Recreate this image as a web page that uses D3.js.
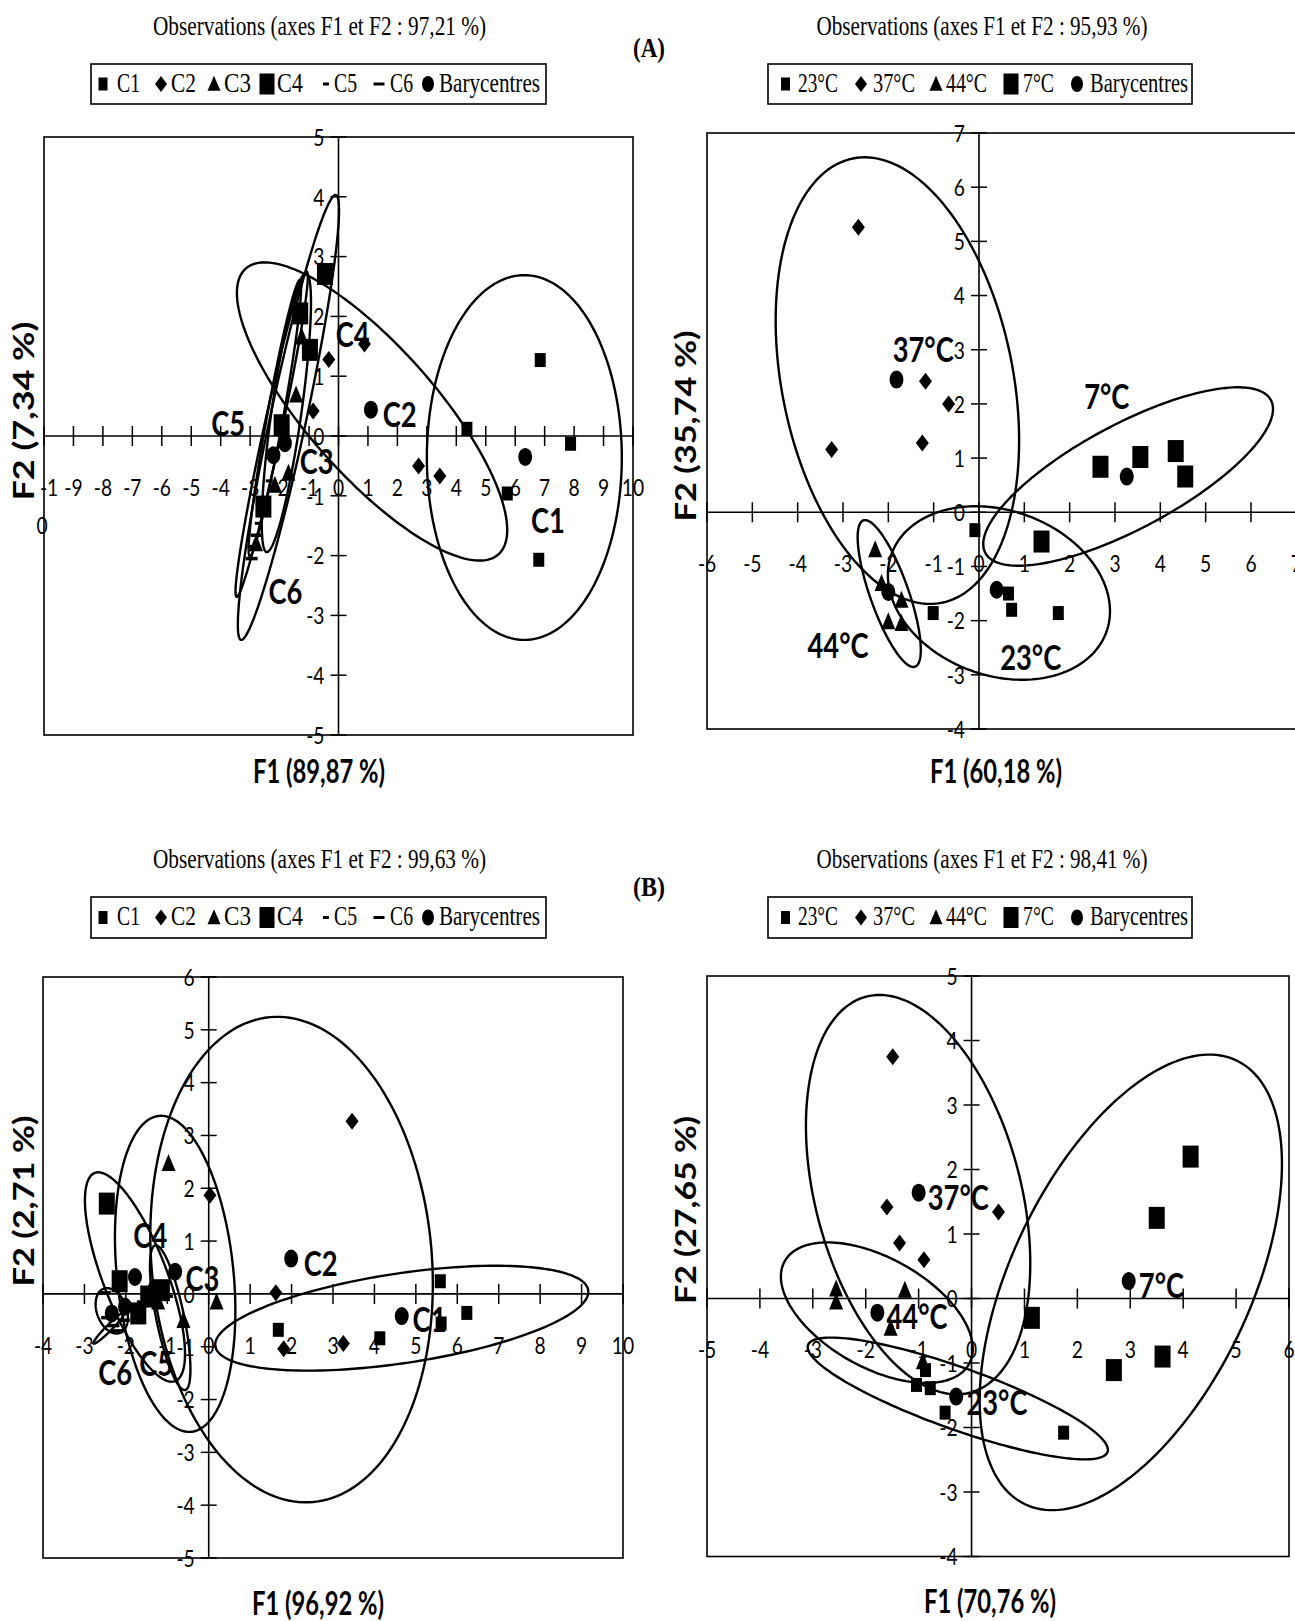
<!DOCTYPE html>
<html>
<head>
<meta charset="utf-8">
<script src="https://cdn.jsdelivr.net/npm/d3@7"></script>
<style>
  body { margin: 0; background: #fff; }
  svg { display: block; }
</style>
</head>
<body>
<svg id="fig" width="1295" height="1621"></svg>
<script>
// ---------- series names ----------
const classNames = ["C1", "C2", "C3", "C4", "C5", "C6", "Barycentres"];
const tempNames = ["23°C", "37°C", "44°C", "7°C", "Barycentres"];

// ---------- titles ----------
const panelTitles = [
  "Observations (axes F1 et F2 : 97,21 %)",
  "Observations (axes F1 et F2 : 95,93 %)",
  "Observations (axes F1 et F2 : 99,63 %)",
  "Observations (axes F1 et F2 : 98,41 %)"
];
const xAxisTitles = ["F1 (89,87 %)", "F1 (60,18 %)", "F1 (96,92 %)", "F1 (70,76 %)"];
const yAxisTitles = ["F2 (7,34 %)", "F2 (35,74 %)", "F2 (2,71 %)", "F2 (27,65 %)"];
const figureTags = ["(A)", "(B)"];

// ---------- tick values ----------
const aLeftXTicks = [-10, -9, -8, -7, -6, -5, -4, -3, -2, -1, 0, 1, 2, 3, 4, 5, 6, 7, 8, 9, 10];
const aLeftYTicks = [-5, -4, -3, -2, -1, 0, 1, 2, 3, 4, 5];
const aRightXTicks = [-6, -5, -4, -3, -2, -1, 0, 1, 2, 3, 4, 5, 6, 7];
const aRightYTicks = [-4, -3, -2, -1, 0, 1, 2, 3, 4, 5, 6, 7];
const bLeftXTicks = [-4, -3, -2, -1, 0, 1, 2, 3, 4, 5, 6, 7, 8, 9, 10];
const bLeftYTicks = [-5, -4, -3, -2, -1, 0, 1, 2, 3, 4, 5, 6];
const bRightXTicks = [-5, -4, -3, -2, -1, 0, 1, 2, 3, 4, 5, 6];
const bRightYTicks = [-4, -3, -2, -1, 0, 1, 2, 3, 4, 5];

// ---------- (A) left: observations per class (F1, F2) ----------
const aLeftC1 = [[6.85, 1.27], [4.36, 0.12], [7.88, -0.13], [5.73, -0.96], [6.80, -2.07]];
const aLeftC2 = [[0.88, 1.54], [-0.33, 1.28], [-0.86, 0.42], [2.72, -0.50], [3.44, -0.67]];
const aLeftC3 = [[-1.25, 1.66], [-1.44, 0.69], [-1.70, -0.62], [-2.16, -0.82], [-2.80, -1.80]];
const aLeftC4 = [[-0.46, 2.71], [-1.30, 2.05], [-0.97, 1.44], [-1.93, 0.18], [-2.55, -1.18]];
const aLeftC5 = [[-2.72, -1.46], [-2.60, -1.25], [-2.35, -0.75]];
const aLeftC6 = [[-2.78, -1.66], [-2.89, -1.85], [-2.95, -2.05]];
const aLeftBary = [[6.34, -0.35], [1.10, 0.44], [-1.82, -0.12], [-2.21, -0.32]];

// ---------- (A) right: observations per temperature ----------
const aRightT23 = [[-0.09, -0.33], [0.65, -1.50], [0.72, -1.80], [1.75, -1.86], [-1.01, -1.86]];
const aRightT37 = [[-2.66, 5.26], [-1.18, 2.42], [-0.67, 2.00], [-3.25, 1.16], [-1.25, 1.28]];
const aRightT44 = [[-2.29, -0.69], [-2.15, -1.31], [-1.71, -1.62], [-2.00, -2.02], [-1.71, -2.05]];
const aRightT7 = [[2.68, 0.84], [3.56, 1.02], [4.34, 1.13], [4.55, 0.66], [1.38, -0.54]];
const aRightBary = [[-1.82, 2.45], [3.26, 0.66], [0.39, -1.43], [-2.00, -1.47]];

// ---------- (B) left ----------
const bLeftC1 = [[5.59, 0.24], [6.23, -0.36], [5.61, -0.56], [4.13, -0.84], [1.68, -0.68]];
const bLeftC2 = [[3.46, 3.27], [0.03, 1.87], [1.62, 0.02], [1.81, -1.04], [3.25, -0.94]];
const bLeftC3 = [[-0.97, 2.47], [0.19, -0.15], [-0.61, -0.50], [-1.22, -0.15], [-1.40, 0.10]];
const bLeftC4 = [[-2.46, 1.71], [-1.70, -0.37], [-1.46, -0.05], [-1.13, 0.07], [-2.15, 0.24]];
const bLeftC5 = [[-1.95, -0.30], [-1.65, -0.15], [-1.30, 0.02], [-1.05, 0.10], [-0.95, -0.05]];
const bLeftC6 = [[-2.50, 0.02], [-2.45, -0.45], [-2.30, -0.60], [-2.20, -0.70], [-2.05, -0.50]];
const bLeftBary = [[4.66, -0.42], [1.99, 0.67], [-0.81, 0.42], [-1.78, 0.32], [-2.02, -0.24], [-2.34, -0.37]];

// ---------- (B) right ----------
const bRightT23 = [[-0.87, -1.11], [-1.04, -1.34], [-0.78, -1.39], [-0.50, -1.77], [1.74, -2.08]];
const bRightT37 = [[-1.49, 3.75], [-1.60, 1.42], [0.51, 1.34], [-1.36, 0.86], [-0.90, 0.60]];
const bRightT44 = [[-2.56, 0.15], [-2.56, -0.05], [-1.26, 0.13], [-1.53, -0.46], [-0.92, -0.98]];
const bRightT7 = [[4.14, 2.20], [3.50, 1.25], [3.61, -0.90], [2.69, -1.11], [1.14, -0.30]];
const bRightBary = [[-1.00, 1.64], [2.97, 0.27], [-1.78, -0.22], [-0.29, -1.52]];

// ---------- confidence ellipses: [cx, cy, ax, ay, bx, by] (centre + two conjugate semi-axes, data units) ----------
const aLeftEllipses = [
  [6.31, -0.36, 0.00, 3.05, 3.31, 0.00],
  [1.14, 0.41, 4.29, -2.39, -1.63, -0.71],
  [-1.70, 0.31, 1.61, 3.72, 0.60, -0.06],
  [-2.27, 0.03, 1.19, 2.72, 0.30, -0.03],
  [-1.77, 0.39, 0.67, 2.33, 0.50, -0.04],
  [-2.16, 0.30, 0.85, 2.31, 0.27, -0.02]
];
const aRightEllipses = [
  [-1.80, 2.43, 0.98, -4.10, -2.50, -0.42],
  [3.29, 0.66, 3.15, 1.41, 0.54, -0.85],
  [0.44, -1.49, 2.37, -0.72, -0.62, -1.43],
  [-1.98, -1.50, 0.57, -1.35, -0.40, -0.12]
];
const bLeftEllipses = [
  [4.66, -0.46, 4.50, 0.53, 0.16, -0.84],
  [2.00, 0.65, 0.52, -4.59, -3.37, -0.24],
  [-0.81, 0.38, 0.39, -2.99, -1.40, -0.11],
  [-1.78, 0.32, -0.97, 1.97, 0.72, 0.22],
  [-0.93, -0.45, 0.36, -1.37, -0.33, -0.05],
  [-2.40, -0.64, 0.38, 0.30, 0.05, -0.04],
  [-2.34, -0.32, 0.19, -0.42, 0.34, 0.09]
];
const bRightEllipses = [
  [-1.01, 1.61, 0.98, -3.07, -1.88, -0.40],
  [3.01, 0.25, 2.00, 3.44, 2.04, -0.80],
  [-1.79, -0.22, 1.74, -0.80, -0.51, -0.74],
  [-0.26, -1.55, 2.83, -0.83, -0.20, -0.45]
];

// ---------- group labels placed in the factor plane ----------
const aLeftLabels = [["C1", 7.11, -1.40], ["C2", 2.08, 0.37], ["C3", -0.74, -0.42], ["C4", 0.48, 1.71], ["C5", -3.75, 0.22], ["C6", -1.80, -2.58]];
const aRightLabels = [["37°C", -1.23, 3.02], ["7°C", 2.82, 2.16], ["44°C", -3.11, -2.44], ["23°C", 1.14, -2.67]];
const bLeftLabels = [["C1", 5.33, -0.47], ["C2", 2.70, 0.60], ["C3", -0.15, 0.30], ["C4", -1.41, 1.13], ["C5", -1.27, -1.31], ["C6", -2.26, -1.47]];
const bRightLabels = [["37°C", -0.25, 1.58], ["7°C", 3.59, 0.21], ["44°C", -1.03, -0.27], ["23°C", 0.48, -1.60]];

// ---------- marker shapes ----------
const SERIF = "'Liberation Serif','Times New Roman',serif";
const SANS = "Lato,'Open Sans','DejaVu Sans',sans-serif";

function rectPath(x, y, w, h) { return `M${x - w / 2},${y - h / 2}h${w}v${h}h${-w}Z`; }
function diamondPath(x, y, w, h) { return `M${x},${y - h / 2}L${x + w / 2},${y}L${x},${y + h / 2}L${x - w / 2},${y}Z`; }
function trianglePath(x, y, w, h) { return `M${x},${y - h * 0.55}L${x + w / 2},${y + h * 0.45}L${x - w / 2},${y + h * 0.45}Z`; }
function ovalPath(x, y, rx, ry) { return `M${x - rx},${y}a${rx},${ry} 0 1,0 ${2 * rx},0a${rx},${ry} 0 1,0 ${-2 * rx},0Z`; }

const shapes = {
  smallSquare: (x, y) => rectPath(x, y, 11, 14),
  diamond: (x, y) => diamondPath(x, y, 13, 17),
  triangle: (x, y) => trianglePath(x, y, 14, 17),
  bigSquare: (x, y) => rectPath(x, y, 16, 22),
  dashShort: (x, y) => rectPath(x, y, 7, 3),
  dashLong: (x, y) => rectPath(x, y, 12, 3.5),
  circle: (x, y) => ovalPath(x, y, 7, 9)
};
const legendShapes = {
  smallSquare: (x, y) => rectPath(x, y, 9, 13),
  diamond: (x, y) => diamondPath(x, y, 12, 16),
  triangle: (x, y) => trianglePath(x, y, 13, 15),
  bigSquare: (x, y) => rectPath(x, y, 15, 21),
  dashShort: (x, y) => rectPath(x, y, 6, 3),
  dashLong: (x, y) => rectPath(x, y, 11, 3),
  circle: (x, y) => ovalPath(x, y, 6, 8)
};
const classShapes = ["smallSquare", "diamond", "triangle", "bigSquare", "dashShort", "dashLong", "circle"];
const tempShapes = ["smallSquare", "diamond", "triangle", "bigSquare", "circle"];

// ---------- panel layout ----------
const panels = [
  {
    frame: { l: 44, r: 633, t: 137, b: 735 }, xDomain: [-10, 10], yDomain: [-5, 5],
    xTicks: aLeftXTicks, yTicks: aLeftYTicks, wrapFirstXLabel: true,
    names: classNames, shapes: classShapes,
    series: [aLeftC1, aLeftC2, aLeftC3, aLeftC4, aLeftC5, aLeftC6, aLeftBary],
    ellipses: aLeftEllipses, labels: aLeftLabels,
    title: panelTitles[0], titleX: 319.5, titleY: 35, titleW: 333,
    legend: { x: 91, y: 64, w: 455, h: 40, marks: [103, 161, 214, 267, 326, 379, 428], texts: [117, 171, 224, 277, 334, 390, 439], widths: [23, 25, 27, 26, 23, 23, 101] },
    xTitle: xAxisTitles[0], xTitlePos: [319, 770],
    yTitle: yAxisTitles[0], yTitlePos: [23, 411], yTitleLen: 179
  },
  {
    frame: { l: 707, r: 1296.3, t: 133, b: 729 }, xDomain: [-6, 7], yDomain: [-4, 7],
    xTicks: aRightXTicks, yTicks: aRightYTicks,
    names: tempNames, shapes: tempShapes,
    series: [aRightT23, aRightT37, aRightT44, aRightT7, aRightBary],
    ellipses: aRightEllipses, labels: aRightLabels,
    title: panelTitles[1], titleX: 982, titleY: 35, titleW: 331,
    legend: { x: 768, y: 64, w: 424, h: 40, marks: [785.5, 861, 936, 1011, 1077], texts: [798, 873, 946, 1023, 1090], widths: [40, 42, 41, 31, 98] },
    xTitle: xAxisTitles[1], xTitlePos: [996, 770],
    yTitle: yAxisTitles[1], yTitlePos: [685, 426], yTitleLen: 191
  },
  {
    frame: { l: 43, r: 623, t: 977, b: 1558 }, xDomain: [-4, 10], yDomain: [-5, 6],
    xTicks: bLeftXTicks, yTicks: bLeftYTicks,
    names: classNames, shapes: classShapes,
    series: [bLeftC1, bLeftC2, bLeftC3, bLeftC4, bLeftC5, bLeftC6, bLeftBary],
    ellipses: bLeftEllipses, labels: bLeftLabels,
    title: panelTitles[2], titleX: 319.5, titleY: 868, titleW: 333,
    legend: { x: 91, y: 897, w: 455, h: 41, marks: [103, 161, 214, 267, 326, 379, 428], texts: [117, 171, 224, 277, 334, 390, 439], widths: [23, 25, 27, 26, 23, 23, 101] },
    xTitle: xAxisTitles[2], xTitlePos: [318, 1602],
    yTitle: yAxisTitles[2], yTitlePos: [23, 1201], yTitleLen: 171
  },
  {
    frame: { l: 707, r: 1289, t: 976, b: 1556.5 }, xDomain: [-5, 6], yDomain: [-4, 5],
    xTicks: bRightXTicks, yTicks: bRightYTicks,
    names: tempNames, shapes: tempShapes,
    series: [bRightT23, bRightT37, bRightT44, bRightT7, bRightBary],
    ellipses: bRightEllipses, labels: bRightLabels,
    title: panelTitles[3], titleX: 982, titleY: 868, titleW: 331,
    legend: { x: 768, y: 897, w: 424, h: 41, marks: [785.5, 861, 936, 1011, 1077], texts: [798, 873, 946, 1023, 1090], widths: [40, 42, 41, 31, 98] },
    xTitle: xAxisTitles[3], xTitlePos: [990, 1600],
    yTitle: yAxisTitles[3], yTitlePos: [685, 1210], yTitleLen: 188
  }
];

const svg = d3.select("#fig");
svg.append("rect").attr("width", 1295).attr("height", 1621).attr("fill", "#fff");

// text squeezed horizontally around its anchor point
function squeezed(g, x, y, str, size, weight, anchor, k) {
  return g.append("text")
    .attr("transform", `translate(${x},${y}) scale(${k},1)`)
    .attr("text-anchor", anchor)
    .attr("dominant-baseline", "central")
    .attr("font-family", SANS)
    .attr("font-size", size)
    .attr("font-weight", weight)
    .attr("fill", "#000")
    .text(str);
}

function drawPanel(p) {
  const g = svg.append("g");
  const f = p.frame;
  const sx = d3.scaleLinear().domain(p.xDomain).range([f.l, f.r]);
  const sy = d3.scaleLinear().domain(p.yDomain).range([f.b, f.t]);
  const x0 = sx(0), y0 = sy(0);

  // title
  g.append("text").attr("x", p.titleX).attr("y", p.titleY)
    .attr("text-anchor", "middle").attr("font-family", SERIF).attr("font-size", 27)
    .attr("textLength", p.titleW).attr("lengthAdjust", "spacingAndGlyphs")
    .text(p.title);

  // legend
  const L = p.legend;
  g.append("rect").attr("x", L.x).attr("y", L.y).attr("width", L.w).attr("height", L.h)
    .attr("fill", "#fff").attr("stroke", "#000").attr("stroke-width", 1.6);
  const cy = L.y + L.h / 2;
  p.names.forEach((name, i) => {
    g.append("path").attr("d", legendShapes[p.shapes[i]](L.marks[i], cy)).attr("fill", "#000");
    g.append("text").attr("x", L.texts[i]).attr("y", cy + 7.5)
      .attr("font-family", SERIF).attr("font-size", 27)
      .attr("textLength", L.widths[i]).attr("lengthAdjust", "spacingAndGlyphs")
      .text(name);
  });

  // plot frame
  g.append("rect").attr("x", f.l).attr("y", f.t).attr("width", f.r - f.l).attr("height", f.b - f.t)
    .attr("fill", "none").attr("stroke", "#000").attr("stroke-width", 1.6);

  // axes through the origin
  g.append("line").attr("x1", f.l).attr("x2", f.r).attr("y1", y0).attr("y2", y0)
    .attr("stroke", "#000").attr("stroke-width", 1.6);
  g.append("line").attr("x1", x0).attr("x2", x0).attr("y1", f.t).attr("y2", f.b)
    .attr("stroke", "#000").attr("stroke-width", 1.6);

  // x ticks (crossing) and labels
  p.xTicks.forEach((t, i) => {
    const x = sx(t);
    g.append("line").attr("x1", x).attr("x2", x).attr("y1", y0 - 10).attr("y2", y0 + 10)
      .attr("stroke", "#000").attr("stroke-width", 1.5);
    const s = String(t);
    if (p.wrapFirstXLabel && i === 0) {
      // label too wide for the edge: wraps onto two lines
      squeezed(g, x + 5, y0 + 51, s.slice(0, -1), 24, 400, "middle", 0.8);
      squeezed(g, x - 2, y0 + 89, s.slice(-1), 24, 400, "middle", 0.8);
    } else {
      squeezed(g, x, y0 + 51, s, 24, 400, "middle", 0.8);
    }
  });
  // y ticks and labels
  p.yTicks.forEach(t => {
    const y = sy(t);
    g.append("line").attr("x1", x0 - 8).attr("x2", x0 + 8).attr("y1", y).attr("y2", y)
      .attr("stroke", "#000").attr("stroke-width", 1.5);
    squeezed(g, x0 - 14, y, String(t), 24, 400, "end", 0.8);
  });

  // ellipses
  const line = d3.line();
  p.ellipses.forEach(e => {
    const [cx, cy2, ax, ay, bx, by] = e;
    const pts = d3.range(0, 360, 2).map(d => {
      const a = d * Math.PI / 180;
      return [sx(cx + Math.cos(a) * ax + Math.sin(a) * bx), sy(cy2 + Math.cos(a) * ay + Math.sin(a) * by)];
    });
    g.append("path").attr("d", line(pts) + "Z")
      .attr("fill", "none").attr("stroke", "#000").attr("stroke-width", 2.4);
  });

  // markers
  p.series.forEach((pts, i) => {
    g.selectAll(null).data(pts).join("path")
      .attr("d", d => shapes[p.shapes[i]](sx(d[0]), sy(d[1])))
      .attr("fill", "#000");
  });

  // group labels
  p.labels.forEach(([txt, lx, ly]) => {
    squeezed(g, sx(lx), sy(ly), txt, 35, 700, "middle", 0.78);
  });

  // axis titles
  g.append("text").attr("x", p.xTitlePos[0]).attr("y", p.xTitlePos[1])
    .attr("text-anchor", "middle").attr("dominant-baseline", "central")
    .attr("font-family", SANS).attr("font-size", 32).attr("font-weight", 700)
    .attr("textLength", 132).attr("lengthAdjust", "spacingAndGlyphs")
    .text(p.xTitle);
  g.append("text")
    .attr("transform", `translate(${p.yTitlePos[0]},${p.yTitlePos[1]}) rotate(-90)`)
    .attr("text-anchor", "middle").attr("dominant-baseline", "central")
    .attr("font-family", SANS).attr("font-size", 28).attr("font-weight", 700)
    .attr("textLength", p.yTitleLen).attr("lengthAdjust", "spacingAndGlyphs")
    .text(p.yTitle);
}

panels.forEach(drawPanel);

// figure part tags
[[figureTags[0], 649, 57], [figureTags[1], 649, 896]].forEach(([t, x, y]) => {
  svg.append("text").attr("x", x).attr("y", y).attr("text-anchor", "middle")
    .attr("font-family", SERIF).attr("font-size", 27).attr("font-weight", 700)
    .attr("textLength", 32).attr("lengthAdjust", "spacingAndGlyphs")
    .text(t);
});
</script>
</body>
</html>
